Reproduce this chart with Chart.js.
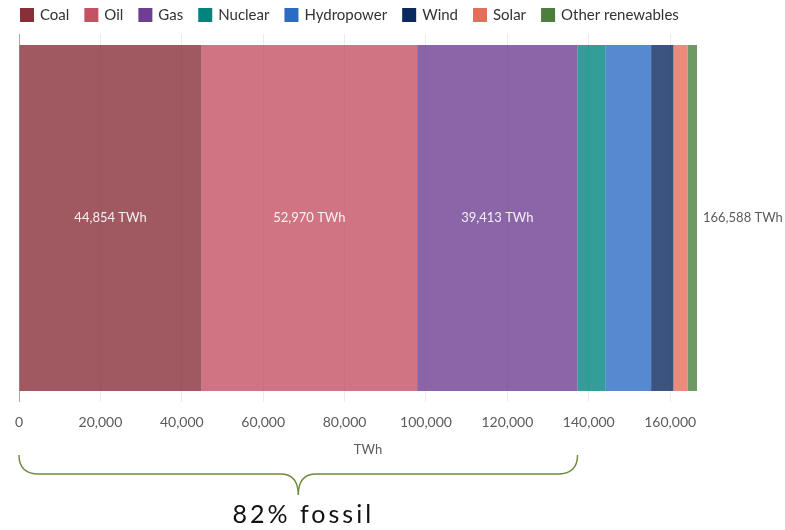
<!DOCTYPE html>
<html>
<head>
<meta charset="utf-8">
<script src="https://cdn.jsdelivr.net/npm/chart.js@4/dist/chart.umd.min.js"></script>
<style>
  html, body { margin: 0; padding: 0; background: #ffffff; }
  #wrap { width: 785px; height: 530px; position: relative; }
</style>
</head>
<body>
<div id="wrap"><canvas id="chart" width="785" height="530"></canvas></div>
<script>
// Global primary energy consumption by source (TWh)
const sources = ['Coal', 'Oil', 'Gas', 'Nuclear', 'Hydropower', 'Wind', 'Solar', 'Other renewables'];
const energyTWh = [44854, 52970, 39413, 6800, 11270, 5490, 3520, 2271];
const fossilSources = ['Coal', 'Oil', 'Gas'];
const xTicks = [0, 20000, 40000, 60000, 80000, 100000, 120000, 140000, 160000];
const unit = 'TWh';

const palette = ['#883039', '#c45164', '#6d3e91', '#00847e', '#2c6bc4', '#0b2b60', '#e56e5a', '#4c7e3d'];
const FONT = 'Lato, "Open Sans", sans-serif';

function withAlpha(hex, a) {
  const n = parseInt(hex.slice(1), 16);
  return `rgba(${(n >> 16) & 255}, ${(n >> 8) & 255}, ${n & 255}, ${a})`;
}

const total = energyTWh.reduce((s, v) => s + v, 0);
const fossilTotal = sources.reduce((s, name, i) => fossilSources.includes(name) ? s + energyTWh[i] : s, 0);
const fmt = v => v.toLocaleString('en-US');

// Legend, segment labels, total label, axis title and the fossil brace
const annotations = {
  id: 'annotations',
  afterDraw(chart) {
    const { ctx } = chart;
    const xs = chart.scales.x;
    ctx.save();

    // legend row
    ctx.font = `15px ${FONT}`;
    ctx.textBaseline = 'middle';
    ctx.textAlign = 'left';
    let lx = 20;
    sources.forEach((name, i) => {
      ctx.fillStyle = palette[i];
      ctx.fillRect(lx, 8, 14, 14);
      ctx.fillStyle = '#333333';
      ctx.fillText(name, lx + 20, 15.5);
      lx += 20 + ctx.measureText(name).width + 15;
    });

    // value labels inside the fossil segments
    const yMid = chart.getDatasetMeta(0).data[0].y;
    ctx.font = `13px ${FONT}`;
    ctx.textAlign = 'center';
    ctx.fillStyle = 'rgba(255,255,255,0.9)';
    chart.data.datasets.forEach((ds, i) => {
      if (!fossilSources.includes(ds.label)) return;
      const bar = chart.getDatasetMeta(i).data[0];
      const left = Math.min(bar.x, bar.base), right = Math.max(bar.x, bar.base);
      ctx.fillText(`${fmt(ds.data[0])} ${unit}`, (left + right) / 2, yMid);
    });

    // total at the end of the bar
    ctx.textAlign = 'left';
    ctx.fillStyle = '#5b5b5b';
    ctx.fillText(`${fmt(total)} ${unit}`, xs.getPixelForValue(total) + 6, yMid);

    // axis title
    ctx.textAlign = 'center';
    ctx.fillText(unit, 368, 450);

    // curly brace under the fossil part of the axis
    const x0 = xs.getPixelForValue(0);
    const x1 = xs.getPixelForValue(fossilTotal);
    const xm = (x0 + x1) / 2;
    const yTop = 455, yLine = 474, yTip = 495;
    ctx.strokeStyle = '#6e8b3d';
    ctx.lineWidth = 1.4;
    ctx.beginPath();
    ctx.moveTo(x0, yTop);
    ctx.quadraticCurveTo(x0, yLine, x0 + 20, yLine);
    ctx.lineTo(xm - 18, yLine);
    ctx.quadraticCurveTo(xm, yLine, xm, yTip);
    ctx.quadraticCurveTo(xm, yLine, xm + 18, yLine);
    ctx.lineTo(x1 - 20, yLine);
    ctx.quadraticCurveTo(x1, yLine, x1, yTop);
    ctx.stroke();

    // fossil share
    ctx.font = `25px ${FONT}`;
    ctx.letterSpacing = '3px';
    ctx.fillStyle = '#111111';
    ctx.textBaseline = 'alphabetic';
    ctx.textAlign = 'center';
    ctx.fillText(`${Math.round(fossilTotal / total * 100)}% fossil`, xm + 5, 523);
    ctx.restore();
  }
};

new Chart(document.getElementById('chart'), {
  type: 'bar',
  data: {
    labels: ['World'],
    datasets: sources.map((name, i) => ({
      label: name,
      data: [energyTWh[i]],
      backgroundColor: withAlpha(palette[i], 0.8),
      borderWidth: 0,
      barPercentage: 0.94,
      categoryPercentage: 1
    }))
  },
  options: {
    indexAxis: 'y',
    responsive: false,
    animation: false,
    layout: { padding: { left: 19, right: 88, top: 34, bottom: 0 } },
    plugins: {
      legend: { display: false },
      tooltip: { enabled: false }
    },
    scales: {
      x: {
        stacked: true,
        min: 0,
        max: total,
        afterBuildTicks(scale) { scale.ticks = xTicks.map(v => ({ value: v })); },
        afterFit(scale) { scale.height = 128; },
        border: { display: false },
        grid: {
          drawTicks: false,
          color: ctx => ctx.tick && ctx.tick.value === 0 ? '#a8a8a8' : '#ececec',
          lineWidth: 1
        },
        ticks: {
          padding: 12,
          maxRotation: 0,
          autoSkip: false,
          color: '#5b5b5b',
          font: { family: FONT, size: 14 },
          callback: v => fmt(v)
        }
      },
      y: {
        stacked: true,
        display: false
      }
    }
  },
  plugins: [annotations]
});
</script>
</body>
</html>
